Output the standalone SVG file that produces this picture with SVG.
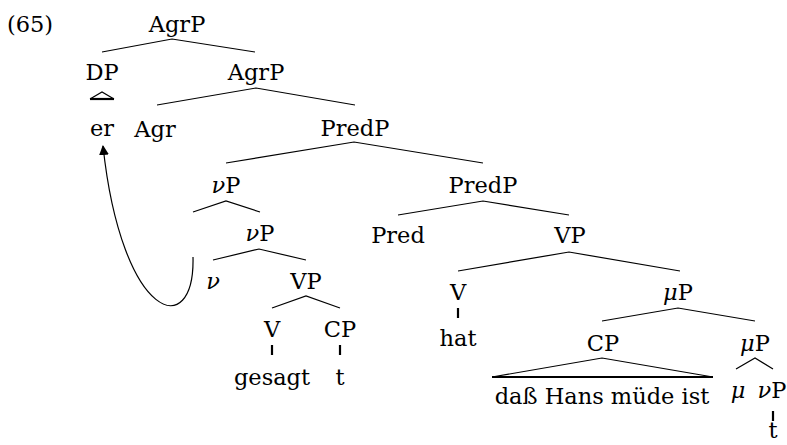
<svg xmlns="http://www.w3.org/2000/svg" width="787" height="445" viewBox="0 0 787 445">
<defs>
<style>
text{font-size:22.5px;fill:#000;text-anchor:middle}
.it{font-style:italic}
line,polyline,path{stroke:#000;stroke-width:1.2;fill:none}
.tick{stroke-width:2.2}
.base{stroke-width:2.2}
</style>
<marker id="ah" viewBox="0 0 10 10" refX="9" refY="5" markerWidth="10" markerHeight="10" markerUnits="userSpaceOnUse" orient="auto">
<path d="M0,0 L10,5 L0,10 Z" style="fill:#000;stroke:none"/>
</marker>
</defs>
<rect width="787" height="445" fill="#fff"/>
<g id="connectors">
<polyline points="102,52 172,39 255,52"/>
<polyline points="157,105 256,88 355,105"/>
<polyline points="226,163 354,142 483,163"/>
<polyline points="193,212 226,201 260,212"/>
<polyline points="398,215 483,201 569,215"/>
<polyline points="213,260 259,249 306,260"/>
<polyline points="458,271 569,252 680,271"/>
<polyline points="272,308 306,296 340,308"/>
<polyline points="602,321 678,308 755,321"/>
<polyline points="736,369 755,358 773,369"/>
<polyline points="90,99 102,92 114,99"/>
<line class="base" x1="90" y1="99" x2="114" y2="99"/>
<polyline points="492,377 602,358 713,377"/>
<line class="base" x1="492" y1="377" x2="713" y2="377"/>
<line class="tick" x1="272" y1="345" x2="272" y2="355"/>
<line class="tick" x1="340" y1="345" x2="340" y2="355"/>
<line class="tick" x1="458" y1="308" x2="458" y2="318"/>
<line class="tick" x1="773" y1="411" x2="773" y2="421"/>
<path d="M193,257 C195,342 122,322 103,146" marker-end="url(#ah)"/>
</g>
<g font-family="'DejaVu Serif', 'Liberation Serif', serif">
<g id="label-65"><text x="30" y="32">(65)</text></g>
<g id="n-AgrP1"><text x="177" y="32">AgrP</text></g>
<g id="n-DP"><text x="102" y="80">DP</text></g>
<g id="n-AgrP2"><text x="256" y="80">AgrP</text></g>
<g id="n-er"><text x="102" y="136">er</text></g>
<g id="n-Agr"><text x="155" y="137">Agr</text></g>
<g id="n-PredP1"><text x="355" y="136">PredP</text></g>
<g id="n-vP1"><text x="226" y="193"><tspan class="it">ν</tspan>P</text></g>
<g id="n-PredP2"><text x="483" y="193">PredP</text></g>
<g id="n-vP2"><text x="260" y="241"><tspan class="it">ν</tspan>P</text></g>
<g id="n-Pred"><text x="398" y="243">Pred</text></g>
<g id="n-VP1"><text x="570" y="243">VP</text></g>
<g id="n-v"><text x="213" y="289" class="it">ν</text></g>
<g id="n-VP2"><text x="306" y="289">VP</text></g>
<g id="n-V1"><text x="458" y="300">V</text></g>
<g id="n-muP1"><text x="678" y="300"><tspan class="it">μ</tspan>P</text></g>
<g id="n-V2"><text x="272" y="337">V</text></g>
<g id="n-CP1"><text x="340" y="337">CP</text></g>
<g id="n-hat"><text x="458" y="346">hat</text></g>
<g id="n-CP2"><text x="603" y="351">CP</text></g>
<g id="n-muP2"><text x="755" y="351"><tspan class="it">μ</tspan>P</text></g>
<g id="n-gesagt"><text x="272" y="385">gesagt</text></g>
<g id="n-t1"><text x="340" y="385">t</text></g>
<g id="n-dass"><text x="602" y="404">daß Hans müde ist</text></g>
<g id="n-mu"><text x="738" y="398" class="it">μ</text></g>
<g id="n-vP3"><text x="772" y="398"><tspan class="it">ν</tspan>P</text></g>
<g id="n-t2"><text x="773" y="438">t</text></g>
</g>
</svg>
